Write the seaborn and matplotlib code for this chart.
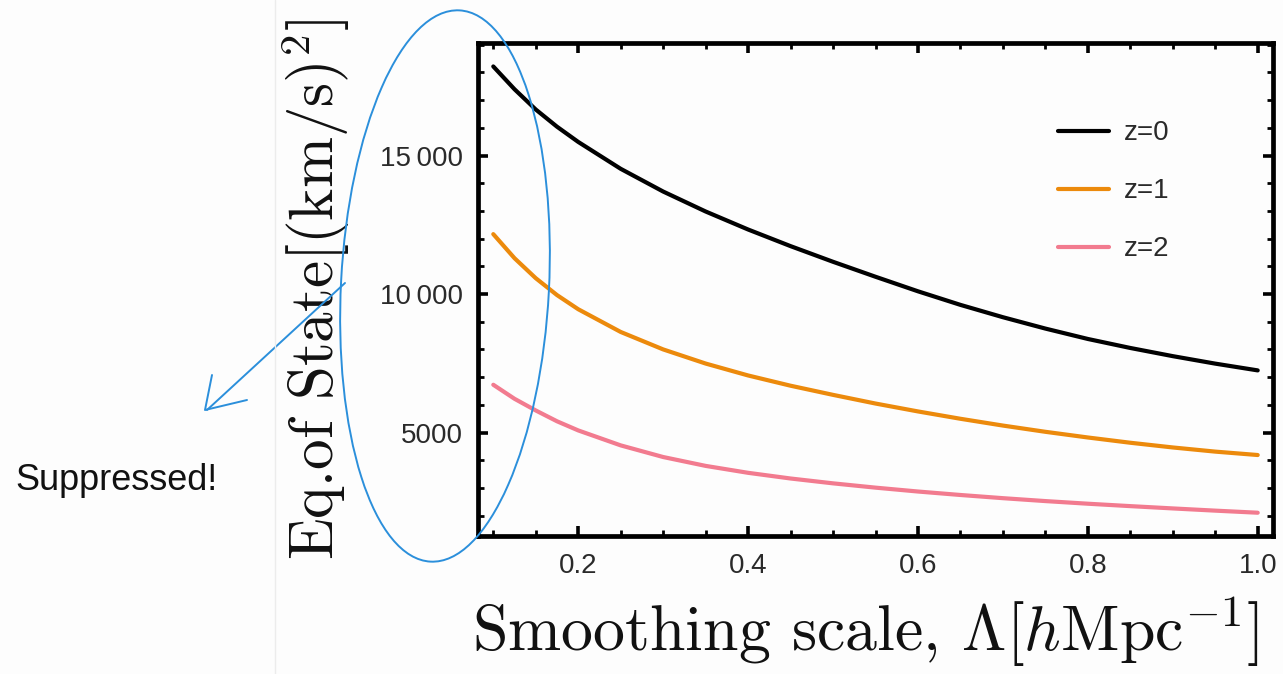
import numpy as np
import pandas as pd
import matplotlib
matplotlib.use("Agg")
import matplotlib.pyplot as plt
from matplotlib.patches import Ellipse
from matplotlib.lines import Line2D
from matplotlib.ticker import MultipleLocator, FixedLocator
import seaborn as sns

# ---- data ----
scale = [0.100, 0.125, 0.150, 0.175, 0.20, 0.25, 0.30, 0.35, 0.40, 0.45, 0.50,
         0.55, 0.60, 0.65, 0.70, 0.75, 0.80, 0.85, 0.90, 0.95, 1.00]
eos_z0 = [18214, 17391, 16660, 16040, 15490, 14520, 13700, 12980, 12330, 11730, 11165,
          10625, 10100, 9610, 9165, 8755, 8380, 8055, 7760, 7490, 7246]
eos_z1 = [12163, 11294, 10573, 9964, 9453, 8633, 8003, 7493, 7063, 6693, 6363,
          6050, 5765, 5500, 5255, 5030, 4825, 4635, 4465, 4315, 4192]
eos_z2 = [6728, 6221, 5800, 5410, 5080, 4540, 4120, 3800, 3550, 3345, 3170,
          3015, 2875, 2750, 2635, 2530, 2435, 2348, 2265, 2185, 2110]
series_labels = ["z=0", "z=1", "z=2"]
series_colors = ["#000000", "#ec8a0c", "#f27b8f"]
x_ticks = [0.2, 0.4, 0.6, 0.8, 1.0]
x_tick_labels = ["0.2", "0.4", "0.6", "0.8", "1.0"]
y_ticks = [5000, 10000, 15000]
y_tick_labels = ["5000", "10\u2009000", "15\u2009000"]

df = pd.concat([
    pd.DataFrame({"scale": scale, "eos": vals, "z": lab})
    for vals, lab in zip([eos_z0, eos_z1, eos_z2], series_labels)
])

sns.set_theme(style="white")
plt.rcParams["font.family"] = ["Liberation Sans", "DejaVu Sans"]
plt.rcParams["mathtext.fontset"] = "cm"
plt.rcParams["axes.unicode_minus"] = False

W, H = 1283, 674
fig = plt.figure(figsize=(W / 100, H / 100), dpi=100)
fig.patch.set_facecolor("#fdfdfd")

ax = fig.add_axes([478 / W, 1 - 536 / H, 795 / W, 493 / H])
ax.set_facecolor("#fdfdfd")

sns.lineplot(data=df, x="scale", y="eos", hue="z", palette=series_colors,
             linewidth=3.0, ax=ax, legend=False)

ax.set_xlim(0.082, 1.018)
ax.set_ylim(1270, 19060)

ax.xaxis.set_major_locator(FixedLocator(x_ticks))
ax.set_xticklabels(x_tick_labels)
ax.xaxis.set_minor_locator(MultipleLocator(0.05))
ax.yaxis.set_major_locator(FixedLocator(y_ticks))
ax.set_yticklabels(y_tick_labels)
ax.yaxis.set_minor_locator(MultipleLocator(1000))

for s in ax.spines.values():
    s.set_visible(True)
    s.set_linewidth(3.4)
    s.set_color("black")

ax.tick_params(which="both", direction="in", top=True, right=True,
               bottom=True, left=True, color="black")
ax.tick_params(which="major", length=7, width=2.6, labelsize=20,
               labelcolor="#2a2a2a")
ax.tick_params(axis="x", which="major", pad=12)
ax.tick_params(axis="y", which="major", pad=11)
ax.tick_params(which="minor", length=4, width=2.0)

ax.set_xlabel(r"Smoothing scale, $\Lambda[h\mathrm{Mpc}^{-1}]$",
              fontsize=46, color="#111111", fontfamily="cmr10")
ax.xaxis.set_label_coords(0.487, -0.118)
ax.set_ylabel(r"Eq.of State$[(\mathrm{km/s})^2]$",
              fontsize=44, labelpad=20, color="#111111", fontfamily="cmr10")

handles = [Line2D([0], [0], color=c, lw=3.0) for c in series_colors]
ax.legend(handles, series_labels, loc="upper left", bbox_to_anchor=(0.729, 0.843),
          frameon=False, fontsize=20, handlelength=1.87, handletextpad=0.5,
          labelspacing=1.15, borderpad=0, borderaxespad=0, labelcolor="#2a2a2a")

# ---- annotations (slide overlay) ----
blue = "#2b8fdb"
def fx(px):
    return px / W
def fy(py):
    return 1 - py / H

ell = Ellipse((445 / 100, (H - 286) / 100), width=2.08, height=5.52, angle=-3,
              transform=fig.dpi_scale_trans, fill=False, edgecolor=blue, lw=1.4)
fig.add_artist(ell)
fig.add_artist(Line2D([fx(345), fx(207)], [fy(283), fy(410)],
                      transform=fig.transFigure, color=blue, lw=1.4))
fig.add_artist(Line2D([fx(212), fx(205), fx(247)], [fy(375), fy(410), fy(400)],
                      transform=fig.transFigure, color=blue, lw=1.4))
fig.add_artist(Line2D([fx(275), fx(275)], [0, 1], transform=fig.transFigure,
                      color="#ececec", lw=1.0))
fig.text(fx(15), fy(481), "Suppressed!", fontsize=26, color="#111111",
         va="center", ha="left")

fig.savefig("out.png", dpi=100, facecolor=fig.get_facecolor())
